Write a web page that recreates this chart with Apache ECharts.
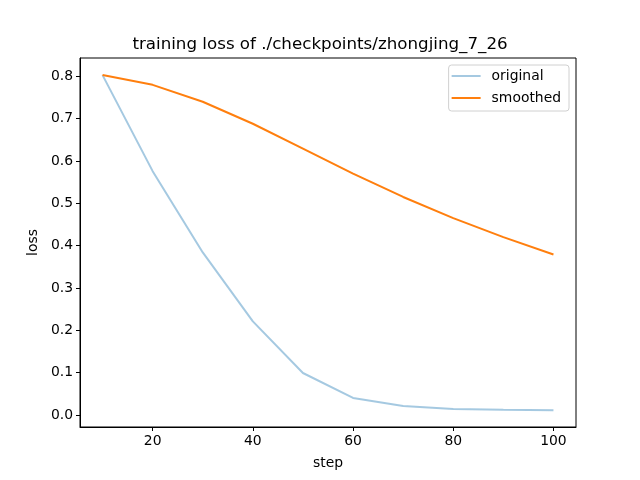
<!DOCTYPE html>
<html><head><meta charset="utf-8">
<script src="https://cdn.jsdelivr.net/npm/echarts@6/dist/echarts.min.js"></script>
<style>html,body{margin:0;padding:0;background:#fff}#c{width:640px;height:480px}</style>
</head><body><div id="c"></div>
<script>
const steps = [10, 20, 30, 40, 50, 60, 70, 80, 90, 100];
const original = [0.803, 0.576, 0.384, 0.221, 0.099, 0.040, 0.021, 0.014, 0.012, 0.011];
const smoothed = [0.803, 0.780, 0.740, 0.688, 0.629, 0.570, 0.515, 0.465, 0.420, 0.379];
const xTicks = [20, 40, 60, 80, 100];
const yTicks = [0.0, 0.1, 0.2, 0.3, 0.4, 0.5, 0.6, 0.7, 0.8];

const font = 'DejaVu Sans';
const chart = echarts.init(document.getElementById('c'), null, {renderer: 'canvas'});
const pair = arr => steps.map((s, i) => [s, arr[i]]);
chart.setOption({
  animation: false,
  backgroundColor: '#fff',
  title: {
    text: 'training loss of ./checkpoints/zhongjing_7_26',
    left: 'center', top: 31,
    textStyle: {fontFamily: font, fontSize: 16.7, fontWeight: 'normal', color: '#000'}
  },
  legend: {
    right: 71, top: 65,
    orient: 'vertical',
    data: [{name: 'original', icon: 'rect'}, {name: 'smoothed', icon: 'rect'}],
    itemWidth: 29, itemHeight: 2, itemGap: 8,
    padding: [4, 8, 6, 3],
    borderColor: '#d0d0d0', borderWidth: 1, borderRadius: 3,
    textStyle: {fontFamily: font, fontSize: 13.9, color: '#000', padding: [0, 0, 0, 6]}
  },
  grid: {left: 80, top: 58, width: 496, height: 369, show: true, borderColor: '#000', borderWidth: 1, containLabel: false},
  xAxis: {
    type: 'value', min: 5.5, max: 104.5,
    name: 'step', nameLocation: 'middle', nameGap: 29,
    nameTextStyle: {fontFamily: font, fontSize: 13.9, color: '#000'},
    splitLine: {show: false},
    axisLine: {onZero: false, lineStyle: {color: '#000', width: 1}},
    axisTick: {length: 4, lineStyle: {color: '#000'}, customValues: xTicks},
    axisLabel: {fontFamily: font, fontSize: 13.9, color: '#000', margin: 7, customValues: xTicks}
  },
  yAxis: {
    type: 'value', min: -0.0286, max: 0.8434,
    name: 'loss', nameLocation: 'middle', nameGap: 35, nameRotate: 90,
    nameTextStyle: {fontFamily: font, fontSize: 13.9, color: '#000'},
    splitLine: {show: false},
    axisLine: {show: true, onZero: false, lineStyle: {color: '#000', width: 1}},
    axisTick: {show: true, length: 4, lineStyle: {color: '#000'}, customValues: yTicks},
    axisLabel: {fontFamily: font, fontSize: 13.9, color: '#000', margin: 7, customValues: yTicks, formatter: v => v.toFixed(1)}
  },
  series: [
    {name: 'original', type: 'line', data: pair(original), showSymbol: false, symbol: 'none',
     lineStyle: {width: 2, color: 'rgba(31,119,180,0.4)'}, itemStyle: {color: 'rgba(31,119,180,0.4)'}},
    {name: 'smoothed', type: 'line', data: pair(smoothed), showSymbol: false, symbol: 'none',
     lineStyle: {width: 2, color: '#ff7f0e'}, itemStyle: {color: '#ff7f0e'}}
  ]
});
</script></body></html>
